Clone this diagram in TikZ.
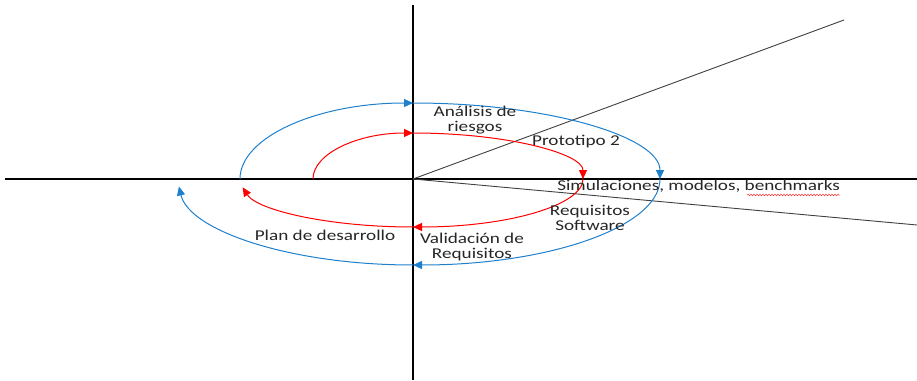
\documentclass[tikz,border=0pt]{standalone}
\usepackage{fontspec}
\setmainfont{Carlito}
\usepackage{tikz}
\usetikzlibrary{arrows.meta,decorations.pathmorphing}
\definecolor{azulesp}{RGB}{30,128,205}

\begin{document}
\begin{tikzpicture}[
  x=1pt, y=1pt,
  font=\fontsize{15}{15.5}\selectfont,
  eje/.style={black, line width=1.2pt},
  radio/.style={black!75, line width=0.9pt},
  azul/.style={azulesp, line width=1pt, -{Triangle[length=9pt, width=8pt]}},
  rojo/.style={red, line width=1pt, -{Triangle[length=9pt, width=8pt]}},
  etiqueta/.style={align=center, text=black!85, inner sep=0pt, xscale=1.28}
]
\useasboundingbox (-413,-201) rectangle (504,179);

\coordinate (o) at (0,0);
\coordinate (izq) at (-408,0);
\coordinate (der) at (504,0);
\coordinate (arriba) at (0,174);
\coordinate (abajo) at (0,-201);
\coordinate (diag1) at (431,159);
\coordinate (diag2) at (504,-46);

\draw[eje] (izq) -- (der);
\draw[eje] (arriba) -- (abajo);
\draw[radio] (o) -- (diag1);
\draw[radio] (o) -- (diag2);

\coordinate (b0) at (-173,0);
\coordinate (b1) at (0,76);
\coordinate (b2) at (247,0);
\coordinate (b3) at (0,-86);
\draw[azul] (b0) arc[start angle=180, end angle=90, x radius=173, y radius=76];
\draw[azul] (b1) arc[start angle=90, end angle=0, x radius=247, y radius=76];
\draw[azul] (b2) arc[start angle=0, end angle=-90, x radius=247, y radius=86];
\draw[azul] (b3) arc[start angle=270, end angle=185, x radius=235, y radius=86];

\coordinate (r0) at (-100,0);
\coordinate (r1) at (0,46);
\coordinate (r2) at (170,0);
\coordinate (r3) at (0,-48);
\draw[rojo] (r0) arc[start angle=180, end angle=90, x radius=100, y radius=46];
\draw[rojo] (r1) arc[start angle=90, end angle=0, x radius=170, y radius=46];
\draw[rojo] (r2) arc[start angle=0, end angle=-90, x radius=170, y radius=48];
\draw[rojo] (r3) arc[start angle=270, end angle=190, x radius=173, y radius=48];

\node[etiqueta] (analisis) at (62,59) {Análisis de\\riesgos};
\node[etiqueta] (proto) at (163,37) {Prototipo 2};
\node[etiqueta, anchor=west] (simul) at (144,-7) {Simulaciones, modelos, benchmarks};
\node[etiqueta] (reqsw) at (177,-39) {Requisitos\\Software};
\node[etiqueta] (valid) at (59,-68) {Validación de\\Requisitos};
\node[etiqueta] (plan) at (-88,-56) {Plan de desarrollo};

\coordinate (sub1) at (334,-16);
\coordinate (sub2) at (427,-16);
\draw[red!80, line width=0.5pt, decorate, decoration={snake, amplitude=0.8pt, segment length=3pt}] (sub1) -- (sub2);
\end{tikzpicture}
\end{document}
